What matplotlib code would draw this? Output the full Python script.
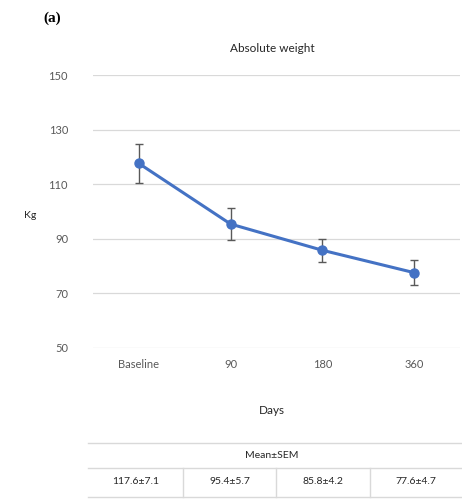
import numpy as np
import matplotlib.pyplot as plt
from matplotlib.lines import Line2D

plt.rcParams['font.family'] = ['Lato', 'DejaVu Sans']
plt.rcParams['font.serif'] = ['Liberation Serif', 'DejaVu Serif']

# Data
days = ['Baseline', '90', '180', '360']
mean = [117.6, 95.4, 85.8, 77.6]
sem = [7.1, 5.7, 4.2, 4.7]

fig = plt.figure(figsize=(4.62, 5.0), dpi=100)
ax = fig.add_axes([93/462, 1 - 348/500, 367/462, 273/500])

x = np.arange(len(days))
ax.errorbar(x, mean, yerr=sem, color='#4472C4', lw=2.2, marker='o', ms=6.5,
            ecolor='#595959', elinewidth=1, capsize=3, capthick=1, zorder=3)

ax.set_xlim(-0.5, len(days) - 0.5)
ax.set_ylim(50, 150)
ax.set_yticks([50, 70, 90, 110, 130, 150])
ax.set_xticks(x)
ax.set_xticklabels(days)
ax.tick_params(length=0, labelsize=8, labelcolor='#595959', pad=8)
ax.tick_params(axis='y', pad=18)
ax.grid(axis='y', color='#d9d9d9', lw=0.9)
for s in ax.spines.values():
    s.set_visible(False)

fig.text(272/462, 1 - 48/500, 'Absolute weight', ha='center', va='center', fontsize=8.5, color='#262626')
fig.text(52/462, 1 - 18/500, '(a)', ha='center', va='center', fontsize=11, fontweight='bold',
         fontfamily='serif')
fig.text(30/462, 1 - 216/500, 'Kg', ha='center', va='center', fontsize=7.5, color='#262626')
fig.text(272/462, 1 - 410/500, 'Days', ha='center', va='center', fontsize=8.5, color='#262626')

# Table below
lc = '#d9d9d9'
for yy in [443, 468, 497]:
    fig.add_artist(Line2D([88/462, 1], [1 - yy/500] * 2, transform=fig.transFigure, color=lc, lw=1))
for xx in [183, 276, 370]:
    fig.add_artist(Line2D([xx/462] * 2, [1 - 468/500, 1 - 497/500], transform=fig.transFigure, color=lc, lw=1))
fig.text(272/462, 1 - 455/500, 'Mean±SEM', ha='center', va='center', fontsize=7.5, color='#262626')
cell_x = [136, 230, 323, 416]
for cx, m, s in zip(cell_x, mean, sem):
    fig.text(cx/462, 1 - 482/500, f'{m}±{s}', ha='center', va='center', fontsize=7.5, color='#262626')

fig.savefig('out.png', dpi=100)
